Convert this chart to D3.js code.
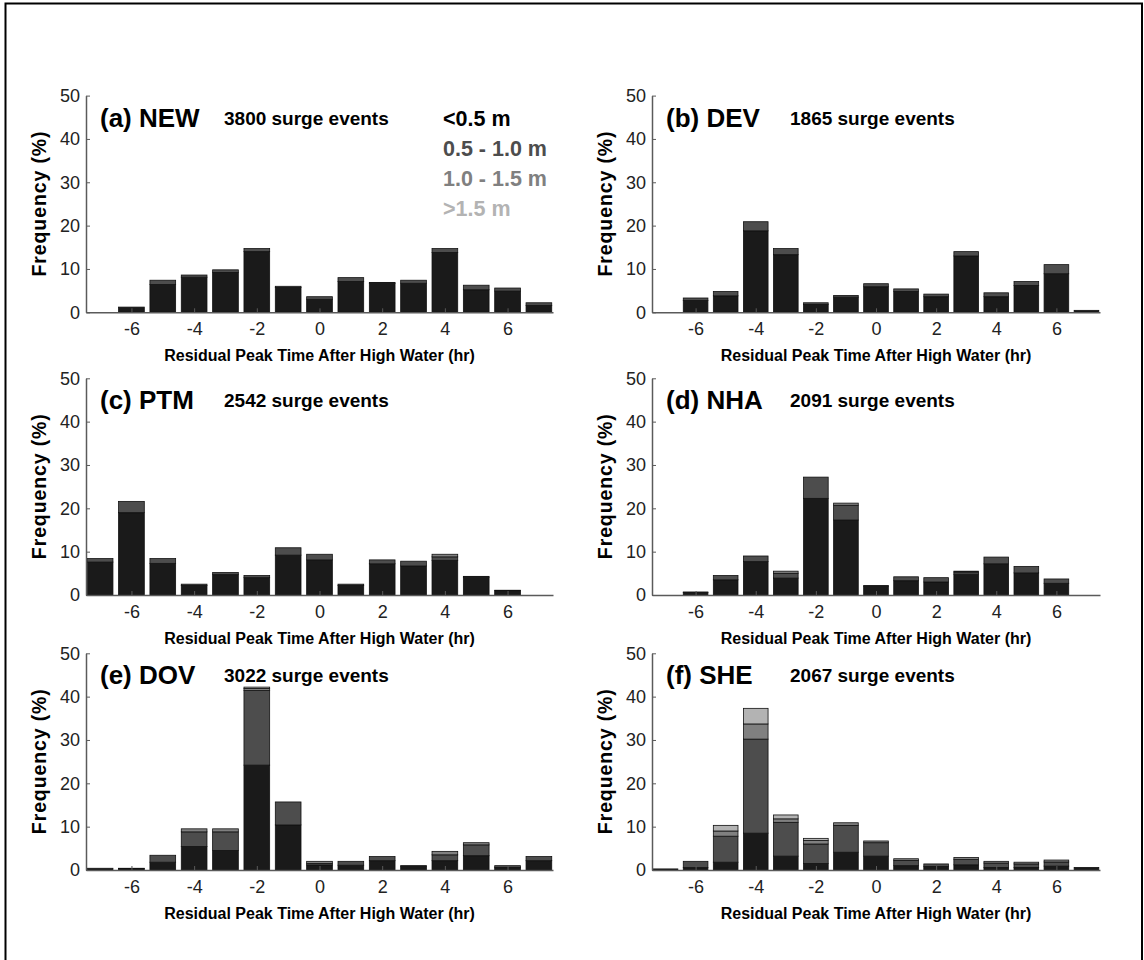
<!DOCTYPE html>
<html><head><meta charset="utf-8">
<script src="https://cdn.jsdelivr.net/npm/d3@7"></script>
<style>body{margin:0;background:#fff}svg{display:block}text{font-family:"Liberation Sans",Arial,Helvetica,sans-serif}</style>
</head><body><svg id="c" width="1144" height="960"></svg>
<script>
// ---------- data ----------
const bins = [-7,-6,-5,-4,-3,-2,-1,0,1,2,3,4,5,6,7];
const xTickValues = [-6,-4,-2,0,2,4,6];
const yTickValues = [0,10,20,30,40,50];
const classNames = ["<0.5 m","0.5 - 1.0 m","1.0 - 1.5 m",">1.5 m"];
const panelTitles = ["(a) NEW","(b) DEV","(c) PTM","(d) NHA","(e) DOV","(f) SHE"];
const eventCounts = [3800,1865,2542,2091,3022,2067];

// per station: rows = surge class (<0.5, 0.5-1.0, 1.0-1.5, >1.5), values = % per bin
const NEW = [
  [0,1.2,6.4,8.1,9.2,14.0,5.7,3.0,7.1,6.7,6.7,13.8,5.2,4.9,1.6],
  [0,0,1.0,0.5,0.6,0.7,0.3,0.6,0.9,0.2,0.7,0.9,1.05,0.7,0.6],
  [0,0,0,0,0,0,0,0,0,0,0,0,0,0,0],
  [0,0,0,0,0,0,0,0,0,0,0,0,0,0,0]];
const DEV = [
  [0,2.7,3.8,18.8,13.3,1.8,3.5,5.9,4.8,3.6,13.0,3.6,6.2,8.9,0.45],
  [0,0.6,1.0,2.1,1.4,0.4,0.4,0.7,0.6,0.6,1.0,0.9,0.9,2.1,0],
  [0,0,0,0,0,0,0,0,0,0,0,0,0,0,0],
  [0,0,0,0,0,0,0,0,0,0,0,0,0,0,0]];
const PTM = [
  [7.6,19.0,7.3,2.2,4.7,4.0,9.2,8.1,2.2,7.2,6.7,8.0,4.1,1.0,0],
  [0.8,2.6,1.1,0.3,0.5,0.5,1.7,1.3,0.3,0.9,1.1,0.8,0.2,0.1,0],
  [0,0,0,0,0,0,0,0,0,0,0,0.6,0,0,0],
  [0,0,0,0,0,0,0,0,0,0,0,0,0,0,0]];
const NHA = [
  [0,0.6,3.5,7.7,3.9,22.3,17.3,2.0,3.3,3.0,4.8,7.2,5.1,2.7,0],
  [0,0.1,1.0,1.3,1.1,4.9,3.4,0.2,0.9,1.0,0.5,1.55,1.5,1.0,0],
  [0,0,0,0,0.5,0,0.5,0,0,0,0.2,0,0,0,0],
  [0,0,0,0,0,0,0,0,0,0,0,0,0,0,0]];
const DOV = [
  [0.4,0.3,1.8,5.4,4.5,24.2,10.4,1.15,1.1,2.15,0.9,2.15,3.3,0.6,2.15],
  [0,0.1,1.6,3.4,4.3,17.2,5.3,0.35,0.9,0.95,0.1,1.35,2.5,0.4,0.95],
  [0,0,0,0.7,0.7,0.5,0,0.5,0,0,0,0.8,0.5,0,0],
  [0,0,0,0,0,0.3,0,0,0,0,0,0,0,0,0]];
const SHE = [
  [0.25,0.55,1.8,8.5,3.2,1.5,4.1,3.2,1.0,0.8,1.2,0.6,0.6,0.9,0.6],
  [0,1.45,6.0,21.7,7.8,4.5,6.2,3.1,1.2,0.6,1.2,1.0,0.8,0.95,0],
  [0,0,1.2,3.5,0.8,0.8,0.6,0.4,0.4,0,0.5,0.4,0.4,0.45,0],
  [0,0,1.3,3.6,0.9,0.5,0,0,0,0,0,0,0,0,0]];
const stations = [NEW,DEV,PTM,NHA,DOV,SHE];

// ---------- style / layout ----------
const classFills = ["#1a1a1a","#4d4d4d","#808080","#b3b3b3"];
const legendColors = ["#000000","#4d4d4d","#808080","#b3b3b3"];
const colX = [[86,553],[652,1100]];
const rowY = [[95.6,312.3],[378.3,595],[653.3,870]];
const font = '"Liberation Sans",Arial,Helvetica,sans-serif';

const svg = d3.select("#c");
svg.append("rect").attr("x",0).attr("y",0).attr("width",1144).attr("height",960).attr("fill","#fff");
// figure border
svg.append("path").attr("d","M5.5,970 V3.5 H1142 V970").attr("fill","none").attr("stroke","#000").attr("stroke-width",2);

const keys = [0,1,2,3];

stations.forEach((st,i)=>{
  const c = i%2, r = Math.floor(i/2);
  const [x0,x1] = colX[c], [y0,y1] = rowY[r];
  const x = d3.scaleLinear().domain([-7.45,7.45]).range([x0,x1]);
  const y = d3.scaleLinear().domain([0,50]).range([y1,y0]);
  const g = svg.append("g");
  const rows = bins.map((b,j)=>({bin:b,0:st[0][j],1:st[1][j],2:st[2][j],3:st[3][j]}));
  const series = d3.stack().keys(keys)(rows);
  const bw = x(0.41)-x(-0.41);
  series.forEach((s,k)=>{
    g.append("g").selectAll("rect").data(s.filter(d=>d[1]-d[0]>0)).join("rect")
      .attr("x",d=>x(d.data.bin)-bw/2)
      .attr("width",bw)
      .attr("y",d=>y(d[1]))
      .attr("height",d=>y(d[0])-y(d[1]))
      .attr("fill",classFills[k])
      .attr("stroke","#111").attr("stroke-width",0.8);
  });
  // axes
  const ax = g.append("g").attr("transform",`translate(0,${y1})`)
    .call(d3.axisBottom(x).tickValues(xTickValues).tickSizeInner(-4).tickSizeOuter(0).tickPadding(10).tickFormat(d=>String(d)));
  const ay = g.append("g").attr("transform",`translate(${x0},0)`)
    .call(d3.axisLeft(y).tickValues(yTickValues).tickSizeInner(-4).tickSizeOuter(0).tickPadding(6).tickFormat(d=>String(d)));
  [ax,ay].forEach(a=>{
    a.select(".domain").attr("stroke","#5a5a5a").attr("stroke-width",1.5);
    a.selectAll(".tick line").attr("stroke","#5a5a5a");
    a.selectAll("text").attr("font-family",font).attr("font-size",18).attr("fill","#222");
  });
  // labels
  g.append("text").attr("x",(x0+x1)/2).attr("y",y1+49).attr("text-anchor","middle")
    .attr("font-weight","bold").attr("font-size",16).text("Residual Peak Time After High Water (hr)");
  g.append("text").attr("transform",`translate(${x0-40},${(y0+y1)/2}) rotate(-90)`).attr("text-anchor","middle")
    .attr("font-weight","bold").attr("font-size",19.5).attr("textLength",145).attr("lengthAdjust","spacing").text("Frequency (%)");
  g.append("text").attr("x",x0+14).attr("y",y0+31).attr("font-weight","bold").attr("font-size",26).text(panelTitles[i]);
  g.append("text").attr("x",x0+138).attr("y",y0+29).attr("font-weight","bold").attr("font-size",19).text(eventCounts[i]+" surge events");
  if(i===0){
    classNames.forEach((n,k)=>{
      g.append("text").attr("x",443).attr("y",126+k*30).attr("font-weight","bold").attr("font-size",21.5)
        .attr("fill",legendColors[k]).text(n);
    });
  }
});
</script></body></html>
